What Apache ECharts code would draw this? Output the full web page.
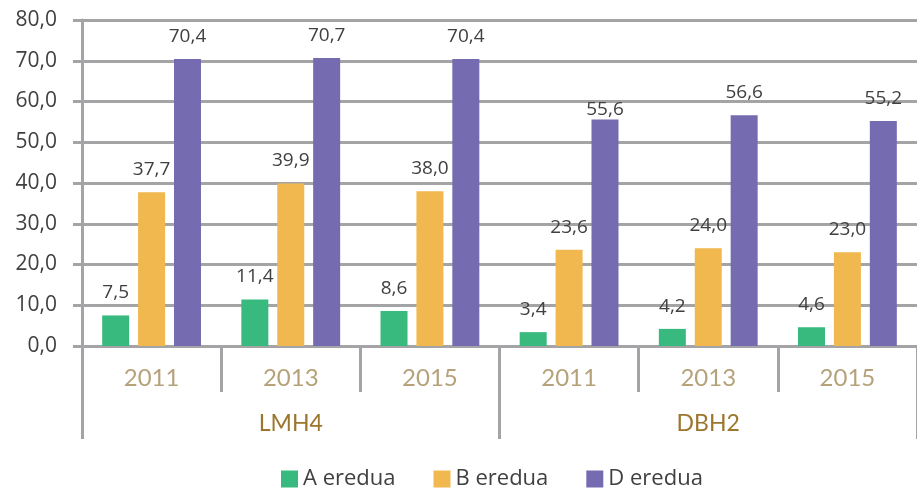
<!DOCTYPE html>
<html><head><meta charset="utf-8">
<script src="https://cdn.jsdelivr.net/npm/echarts@6/dist/echarts.min.js"></script>
<style>html,body{margin:0;padding:0;background:#fff}#c{width:917px;height:493px}</style>
</head><body><div id="c"></div>
<script>
const years = ['2011','2013','2015','2011','2013','2015'];
const groups = ['LMH4','DBH2'];
const seriesNames = ['A eredua','B eredua','D eredua'];
const valuesA = [7.5, 11.4, 8.6, 3.4, 4.2, 4.6];
const valuesB = [37.7, 39.9, 38.0, 23.6, 24.0, 23.0];
const valuesD = [70.4, 70.7, 70.4, 55.6, 56.6, 55.2];
const yTicks = {min: 0, max: 80, interval: 10};

const colors = ['#38b97e', '#f0b84e', '#756bb0'];
const gray = '#a4a4a6';
const font = 'Lato, "Open Sans", sans-serif';
const fmt = v => v.toFixed(1).replace('.', ',');

const chart = echarts.init(document.getElementById('c'), null, {renderer: 'canvas'});
const mk = (name, vals, i) => ({
  name, type: 'bar', xAxisIndex: 0, barWidth: 27, barGap: '33%',
  itemStyle: {color: colors[i]},
  label: {show: true, position: 'top', distance: 13, color: '#404040', fontSize: 19,
          fontFamily: '"Open Sans", sans-serif', formatter: p => fmt(p.value)},
  data: vals.map((v, k) => (i === 2 && k === 3) ? {value: v, label: {distance: 0}} : v)
});
chart.setOption({
  animation: false,
  color: colors,
  grid: {left: 82, right: 0, top: 20, bottom: 147, containLabel: false},
  legend: {
    data: seriesNames, left: 276, top: 463, itemWidth: 17, itemHeight: 17, itemGap: 38,
    icon: 'rect',
    textStyle: {color: '#404040', fontSize: 22, fontFamily: '"Open Sans", sans-serif'}
  },
  xAxis: [
    {type: 'category', data: years, position: 'bottom',
     axisLine: {show: true, lineStyle: {color: gray, width: 3}},
     axisTick: {show: true, length: 46, interval: 0, lineStyle: {color: gray, width: 3}},
     axisLabel: {interval: 0, margin: 20, color: '#b5a27a', fontSize: 24, fontFamily: font}},
    {type: 'category', data: groups, position: 'bottom',
     axisLine: {show: false},
     axisTick: {show: true, length: 93, interval: 0, lineStyle: {color: gray, width: 3}},
     axisLabel: {interval: 0, margin: 66, color: '#9c762c', fontSize: 23, fontFamily: font}}
  ],
  yAxis: {
    type: 'value', min: yTicks.min, max: yTicks.max, interval: yTicks.interval,
    axisLine: {show: true, lineStyle: {color: gray, width: 3}},
    axisTick: {show: true, length: 9, lineStyle: {color: gray, width: 3}},
    splitLine: {show: true, lineStyle: {color: gray, width: 3}},
    axisLabel: {margin: 25, color: '#404040', fontSize: 21, fontFamily: '"Open Sans", sans-serif', formatter: v => fmt(v)}
  },
  series: [mk(seriesNames[0], valuesA, 0), mk(seriesNames[1], valuesB, 1), mk(seriesNames[2], valuesD, 2)]
});
</script></body></html>
